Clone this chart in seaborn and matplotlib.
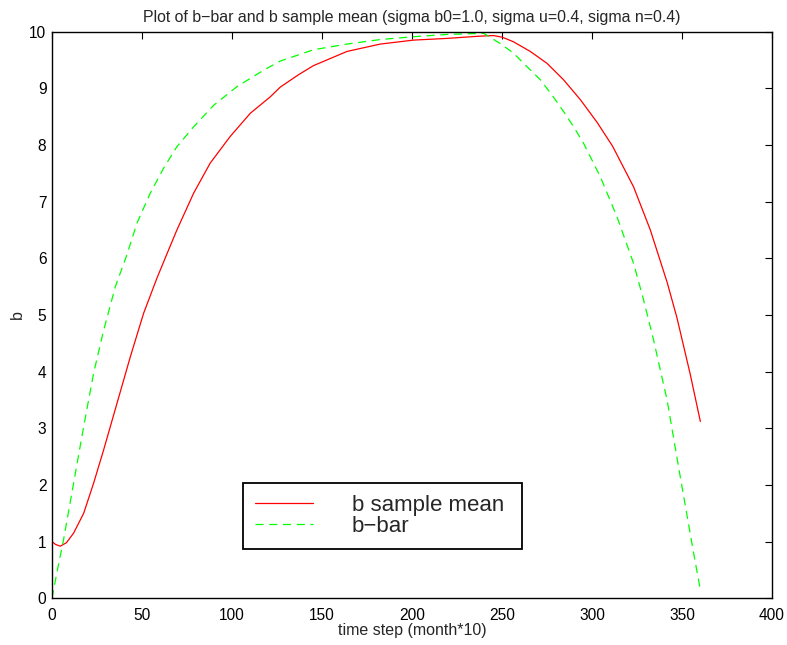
import matplotlib
matplotlib.use("Agg")
import matplotlib.pyplot as plt
import seaborn as sns
import pandas as pd

# ---- data ----
t_mean = [0, 2, 4.6, 8, 12, 17.6, 23.1, 28.7, 36.1, 43.5, 50.9, 58.3, 64.8, 69.4,
          78.7, 87.9, 99, 110.2, 121.3, 126.8, 137, 145.3, 163.9, 182.4, 200.9,
          219.4, 237.9, 245.3, 250.3, 256.4, 265.7, 275, 284.2, 293.5, 302.8,
          311.4, 323.1, 332.4, 341.7, 347.2, 354.6, 360.2]
b_mean = [1.0, 0.95, 0.92, 0.98, 1.15, 1.5, 2.03, 2.62, 3.44, 4.26, 5.03, 5.65,
          6.15, 6.5, 7.15, 7.68, 8.15, 8.56, 8.85, 9.02, 9.24, 9.4, 9.65, 9.78,
          9.85, 9.88, 9.92, 9.93, 9.90, 9.82, 9.65, 9.44, 9.15, 8.80, 8.40,
          7.98, 7.26, 6.5, 5.58, 4.95, 3.95, 3.12]

t_bar = [0, 3, 6.4, 12, 17.6, 23.1, 28.7, 35.2, 41.5, 47.2, 54.6, 62, 69.4, 78.7,
         89.8, 102.8, 117.6, 126.8, 137, 145.3, 163.9, 182.4, 200.9, 219.4,
         239.8, 249, 256.4, 263.9, 271.3, 277.8, 284.2, 289.8, 295.3, 304.6,
         313.9, 323.1, 328.7, 334.2, 341.7, 349, 356.5, 360.2]
b_bar = [0.0, 0.5, 1.03, 2.03, 3.03, 3.97, 4.73, 5.5, 6.05, 6.62, 7.15, 7.59,
         7.97, 8.32, 8.7, 9.03, 9.32, 9.48, 9.59, 9.68, 9.78, 9.86, 9.91, 9.95,
         9.97, 9.79, 9.62, 9.38, 9.15, 8.88, 8.59, 8.32, 8.03, 7.44, 6.73, 5.91,
         5.26, 4.56, 3.5, 2.15, 0.79, 0.15]

series_labels = ["b sample mean", "b\u2212bar"]
x_ticks = [0, 50, 100, 150, 200, 250, 300, 350, 400]
y_ticks = [0, 1, 2, 3, 4, 5, 6, 7, 8, 9, 10]

title = "Plot of b\u2212bar and b sample mean (sigma b0=1.0, sigma u=0.4, sigma n=0.4)"
xlabel = "time step (month*10)"
ylabel = "b"

# ---- styling ----
sns.set_theme(style="white")
plt.rcParams["font.family"] = ["Liberation Sans", "DejaVu Sans"]
plt.rcParams["axes.unicode_minus"] = True

fig = plt.figure(figsize=(7.87, 6.45), dpi=100)
ax = fig.add_axes([52 / 787, 1 - 598.3 / 645, 720 / 787, 566.7 / 645])

df_mean = pd.DataFrame({"t": t_mean, "b": b_mean})
df_bar = pd.DataFrame({"t": t_bar, "b": b_bar})

sns.lineplot(data=df_mean, x="t", y="b", ax=ax, color=(1, 0, 0), lw=0.9,
             label=series_labels[0], sort=False, estimator=None)
sns.lineplot(data=df_bar, x="t", y="b", ax=ax, color=(0, 1, 0), lw=0.9,
             label=series_labels[1], sort=False, estimator=None)
ax.lines[1].set_dashes((6.5, 4.5))

ax.set_xlim(0, 400)
ax.set_ylim(0, 10)
ax.set_xticks(x_ticks)
ax.set_yticks(y_ticks)
ax.tick_params(direction="in", length=5, width=0.8, top=True, right=True,
               labelsize=11.2, colors="black")
ax.tick_params(axis="x", pad=7)
ax.tick_params(axis="y", pad=4)
for s in ax.spines.values():
    s.set_visible(True)
    s.set_color("black")
    s.set_linewidth(1.0)

ax.set_title(title, fontsize=11.4, pad=7)
ax.set_xlabel(xlabel, fontsize=11.5, labelpad=0)
ax.set_ylabel(ylabel, fontsize=11.5, labelpad=3)

leg = ax.legend(loc="lower left",
                bbox_to_anchor=(106 / 400, 0.087, (261 - 106) / 400, 0.202 - 0.087),
                mode="expand", fontsize=16, frameon=True, fancybox=False,
                handlelength=2.6, handletextpad=1.75, labelspacing=0.0,
                borderpad=0.55, borderaxespad=0)
leg.get_frame().set_edgecolor("black")
leg.get_frame().set_linewidth(1.3)
leg.get_frame().set_alpha(1)

fig.savefig("out.png", dpi=100, facecolor="white")
